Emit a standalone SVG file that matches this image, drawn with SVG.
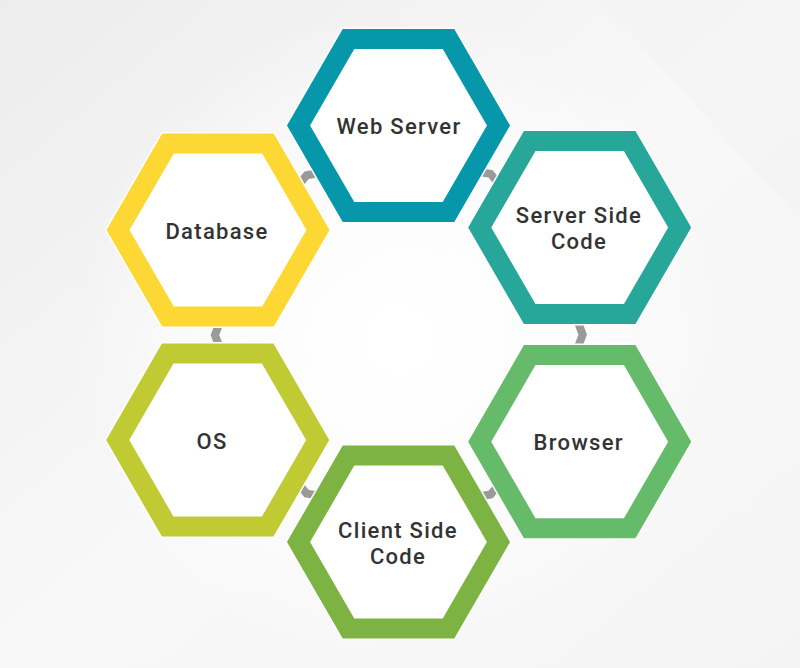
<svg xmlns="http://www.w3.org/2000/svg" width="800" height="668" viewBox="0 0 800 668">
<defs>
<linearGradient id="bg" x1="0" y1="0" x2="1" y2="1">
<stop offset="0" stop-color="#ececec"/>
<stop offset="0.5" stop-color="#f8f8f8"/>
<stop offset="1" stop-color="#f4f4f4"/>
</linearGradient>
<radialGradient id="glow" cx="400" cy="340" r="330" gradientUnits="userSpaceOnUse">
<stop offset="0" stop-color="#ffffff" stop-opacity="1"/>
<stop offset="0.6" stop-color="#ffffff" stop-opacity="0.6"/>
<stop offset="1" stop-color="#ffffff" stop-opacity="0"/>
</radialGradient>
<style>
.halo{fill:#ffffff;stroke:#ffffff;stroke-width:23;stroke-linejoin:miter}
.hex{fill:#ffffff;stroke-width:20;stroke-linejoin:miter}
.lbl{font-family:"Roboto","Liberation Sans",sans-serif;font-size:22px;font-weight:500;fill:#333333;text-anchor:middle;letter-spacing:1.3px}
.con{fill:none;stroke:#9a9a9a;stroke-width:8;stroke-linejoin:miter;stroke-linecap:butt}
</style>
<polygon id="hx" points="100,0 50,86.6 -50,86.6 -100,0 -50,-86.6 50,-86.6"/>
</defs>
<rect x="0" y="0" width="800" height="668" fill="url(#bg)"/>
<polygon points="600,0 800,0 800,220" fill="#f1f1f1" opacity="0.5"/>
<rect x="0" y="0" width="800" height="668" fill="url(#glow)"/>

<g id="connectors">
<polyline class="con" points="323.6,172.3 306.7,175.2 295.9,188.4"/>
<polyline class="con" points="473.6,171.2 490.6,173.9 501.6,187.0"/>
<polyline class="con" points="576.7,318.6 582.7,334.6 576.7,350.6"/>
<polyline class="con" points="220.9,319 214.9,335 220.9,351"/>
<polyline class="con" points="295.6,480.5 306.6,493.6 323.6,496.3"/>
<polyline class="con" points="473.7,497.0 490.6,494.5 501.7,481.4"/>
</g>

<g id="web-server" transform="translate(398.5,125.5)">
<use href="#hx" class="halo"/>
<use href="#hx" class="hex" stroke="#0698aa"/>
<text class="lbl" x="0.5" y="8">Web Server</text>
</g>

<g id="database" transform="translate(218,230)">
<use href="#hx" class="halo"/>
<use href="#hx" class="hex" stroke="#fdd835"/>
<text class="lbl" x="-1" y="8.5">Database</text>
</g>

<g id="server-side-code" transform="translate(579.7,227.5)">
<use href="#hx" class="halo"/>
<use href="#hx" class="hex" stroke="#27a69a"/>
<text class="lbl" x="-0.7" y="-5">Server Side</text>
<text class="lbl" x="-0.7" y="21">Code</text>
</g>

<g id="browser" transform="translate(579.7,441.7)">
<use href="#hx" class="halo"/>
<use href="#hx" class="hex" stroke="#66bb6a"/>
<text class="lbl" x="-1" y="8.5">Browser</text>
</g>

<g id="client-side-code" transform="translate(398.5,542)">
<use href="#hx" class="halo"/>
<use href="#hx" class="hex" stroke="#7cb342"/>
<text class="lbl" x="-0.5" y="-4.5">Client Side</text>
<text class="lbl" x="-0.5" y="21.5">Code</text>
</g>

<g id="os" transform="translate(217.7,440)">
<use href="#hx" class="halo"/>
<use href="#hx" class="hex" stroke="#c0ca33"/>
<text class="lbl" x="-5.7" y="8.5">OS</text>
</g>
</svg>
